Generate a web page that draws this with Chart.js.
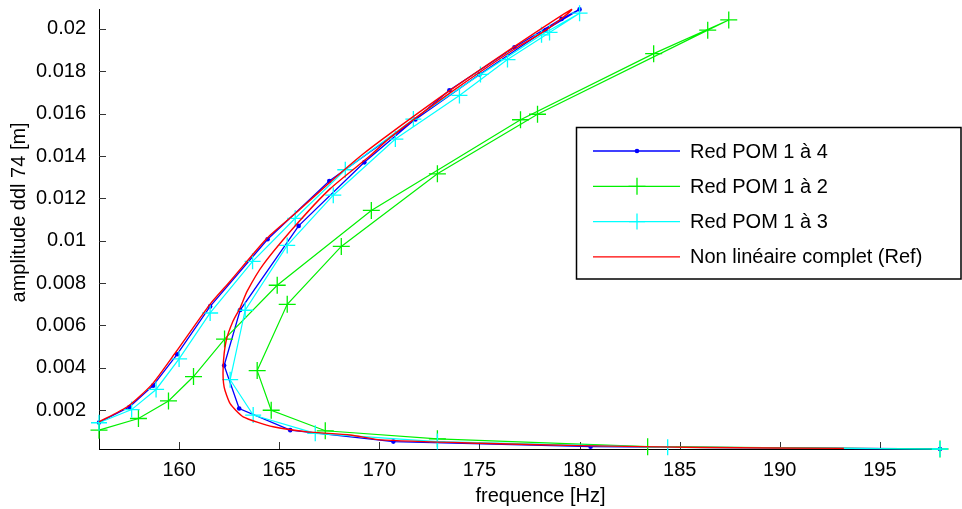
<!DOCTYPE html>
<html>
<head>
<meta charset="utf-8">
<script src="https://cdn.jsdelivr.net/npm/chart.js@4.4.0/dist/chart.umd.min.js"></script>
<style>
  html, body { margin: 0; padding: 0; background: #fff; overflow: hidden; }
</style>
</head>
<body>
<canvas id="chart" width="962" height="509"></canvas>
<script>
// frequency [Hz] / amplitude [m] along each continuation curve
const pom4Freq = [156.0, 157.52, 158.7, 159.9, 161.55, 164.42, 167.5, 171.8, 175.0, 178.3, 180.0,
                  179.1, 176.75, 173.5, 169.25, 165.97, 163.05, 162.25, 163.0, 165.55, 170.7, 180.55, 198.0];
const pom4Amp  = [0.00142, 0.00215, 0.00316, 0.00464, 0.0069, 0.01007, 0.01282, 0.01572, 0.01785, 0.01995, 0.02092,
                  0.02047, 0.01913, 0.0171, 0.0137, 0.0107, 0.00673, 0.00411, 0.00208, 0.00106, 0.00052, 0.00028, 0.00017];

const pom2Freq = [156.0, 157.97, 159.47, 160.72, 162.27, 164.9, 169.6, 177.05, 183.7, 187.45,
                  186.4, 177.9, 172.9, 168.1, 165.4, 163.9, 164.6, 167.3, 172.9, 183.4, 198.0];
const pom2Amp  = [0.00106, 0.00161, 0.00244, 0.00359, 0.00536, 0.0079, 0.01143, 0.01571, 0.01883, 0.02042,
                  0.01994, 0.01597, 0.01316, 0.00973, 0.007, 0.00387, 0.002, 0.00103, 0.00065, 0.00028, 0.00017];

const pom3Freq = [156.0, 157.63, 158.85, 160.0, 161.55, 163.67, 165.8, 168.3, 171.7, 175.05, 178.1, 180.0,
                  178.5, 176.4, 174.0, 170.8, 167.7, 165.4, 163.3, 162.55, 163.7, 166.8, 172.9, 184.4, 198.0];
const pom3Amp  = [0.00141, 0.00203, 0.00298, 0.00442, 0.00659, 0.00903, 0.01106, 0.01335, 0.01574, 0.01785, 0.01972, 0.02074,
                  0.01983, 0.01855, 0.01686, 0.0148, 0.01215, 0.00978, 0.00672, 0.00344, 0.00177, 0.00091, 0.00052, 0.00025, 0.00017];

const refFreq = [156.0, 157.45, 158.65, 159.85, 161.55, 162.55, 164.39, 165.9, 167.55, 169.17, 170.55, 173.47, 176.7, 179.6,
                 178.4, 176.75, 173.55, 170.55, 169.55, 167.55, 165.9, 164.2, 163.4, 163.05, 162.7, 162.35, 162.2, 162.25,
                 162.55, 163.2, 164.7, 166.4, 168.55, 170.05, 175.05, 180.05, 186.05, 193.2];
const refAmp  = [0.00145, 0.00219, 0.00322, 0.00476, 0.00701, 0.00809, 0.01012, 0.01137, 0.01277, 0.01408, 0.01507, 0.01706, 0.01914, 0.02092,
                 0.01999, 0.01905, 0.01699, 0.01488, 0.01402, 0.01246, 0.01081, 0.00887, 0.00762, 0.00684, 0.00622, 0.00528, 0.00403, 0.00309,
                 0.00231, 0.00169, 0.00122, 0.00098, 0.00083, 0.0006, 0.00044, 0.00033, 0.00024, 0.0002];

const xTicks = [160, 165, 170, 175, 180, 185, 190, 195];
const yTicks = [0.002, 0.004, 0.006, 0.008, 0.01, 0.012, 0.014, 0.016, 0.018, 0.02];

const FONT = "'Liberation Sans', Arial, sans-serif";
Chart.defaults.font.family = FONT;
Chart.defaults.font.size = 20;
Chart.defaults.color = '#000';

const pts = (fx, fy) => fx.map((f, i) => ({ x: f, y: fy[i] }));

// ticks pointing into the plot, like the original
const inwardTicks = {
  id: 'inwardTicks',
  beforeDatasetsDraw(chart) {
    const { ctx, chartArea: a, scales: { x, y } } = chart;
    ctx.save();
    ctx.strokeStyle = '#333';
    ctx.lineWidth = 1;
    ctx.beginPath();
    x.ticks.forEach(t => {
      const p = Math.round(x.getPixelForValue(t.value)) + 0.5;
      ctx.moveTo(p, a.bottom); ctx.lineTo(p, a.bottom - 7);
    });
    y.ticks.forEach(t => {
      const p = Math.round(y.getPixelForValue(t.value)) + 0.5;
      ctx.moveTo(a.left, p); ctx.lineTo(a.left + 7, p);
    });
    ctx.stroke();
    ctx.restore();
  }
};

const axisTitles = {
  id: 'axisTitles',
  afterDraw(chart) {
    const { ctx, chartArea: a } = chart;
    ctx.save();
    ctx.font = '20px ' + FONT;
    ctx.fillStyle = '#000';
    ctx.textAlign = 'center';
    ctx.textBaseline = 'middle';
    ctx.fillText('frequence [Hz]', (a.left + a.right) / 2 + 21, 496);
    ctx.translate(19, (a.top + a.bottom) / 2 - 17);
    ctx.rotate(-Math.PI / 2);
    ctx.fillText('amplitude ddl 74 [m]', 0, 0);
    ctx.restore();
  }
};

function drawMarker(ctx, ds, x, y) {
  ctx.strokeStyle = ds.borderColor;
  ctx.fillStyle = ds.borderColor;
  if (ds.pointStyle === 'circle') {
    ctx.beginPath(); ctx.arc(x, y, ds.pointRadius, 0, Math.PI * 2); ctx.fill();
  } else if (ds.pointStyle === 'cross') {
    const r = ds.pointRadius;
    ctx.lineWidth = ds.pointBorderWidth;
    ctx.beginPath();
    ctx.moveTo(x - r, y); ctx.lineTo(x + r, y);
    ctx.moveTo(x, y - r); ctx.lineTo(x, y + r);
    ctx.stroke();
  }
}

const boxLegend = {
  id: 'boxLegend',
  afterDraw(chart) {
    const ctx = chart.ctx;
    ctx.save();
    ctx.fillStyle = '#fff';
    ctx.fillRect(576, 127, 386, 152);
    ctx.strokeStyle = '#000';
    ctx.lineWidth = 1.5;
    ctx.strokeRect(576.5, 127.5, 384.5, 151.5);
    ctx.font = '20px ' + FONT;
    ctx.textBaseline = 'middle';
    chart.data.datasets.forEach((ds, i) => {
      const y = 151 + i * 35.3;
      ctx.strokeStyle = ds.borderColor;
      ctx.lineWidth = ds.borderWidth;
      ctx.beginPath(); ctx.moveTo(593, y); ctx.lineTo(680, y); ctx.stroke();
      if (ds.pointRadius > 0) drawMarker(ctx, ds, 637, y);
      ctx.fillStyle = '#000';
      ctx.fillText(ds.label, 690, y + 1);
    });
    ctx.restore();
  }
};

new Chart(document.getElementById('chart'), {
  type: 'scatter',
  data: {
    datasets: [
      {
        label: 'Red POM 1 à 4', data: pts(pom4Freq, pom4Amp), showLine: true,
        borderColor: '#0000ff', backgroundColor: '#0000ff', borderWidth: 1.3,
        pointStyle: 'circle', pointRadius: 2.3, pointBorderWidth: 0, order: 3, clip: false
      },
      {
        label: 'Red POM 1 à 2', data: pts(pom2Freq, pom2Amp), showLine: true,
        borderColor: '#00f000', backgroundColor: '#00f000', borderWidth: 1.2,
        pointStyle: 'cross', pointRadius: 8.5, pointBorderWidth: 1.3, order: 2, clip: false
      },
      {
        label: 'Red POM 1 à 3', data: pts(pom3Freq, pom3Amp), showLine: true,
        borderColor: '#00ffff', backgroundColor: '#00ffff', borderWidth: 1.2,
        pointStyle: 'cross', pointRadius: 8, pointBorderWidth: 1.3, order: 1, clip: false
      },
      {
        label: 'Non linéaire complet (Ref)', data: pts(refFreq, refAmp), showLine: true,
        borderColor: '#ff0000', backgroundColor: '#ff0000', borderWidth: 1.4,
        pointRadius: 0, tension: 0.2, order: 0, clip: false
      }
    ]
  },
  options: {
    responsive: false,
    animation: false,
    events: [],
    layout: { padding: { left: 0, right: 22, top: 7, bottom: 0 } },
    plugins: { legend: { display: false }, tooltip: { enabled: false } },
    scales: {
      x: {
        type: 'linear', min: 156, max: 198,
        grid: { display: false },
        border: { display: true, color: '#000', width: 1 },
        ticks: { padding: 1, autoSkip: false, maxRotation: 0, color: '#000' },
        afterBuildTicks: s => { s.ticks = xTicks.map(v => ({ value: v })); },
        afterFit: s => { s.height = 60; s.paddingLeft = 0; s.paddingRight = 0; }
      },
      y: {
        type: 'linear', min: 0.00017, max: 0.0209,
        grid: { display: false },
        border: { display: true, color: '#000', width: 1 },
        ticks: { padding: 5, autoSkip: false, color: '#000', callback: v => String(+v.toFixed(4)) },
        afterBuildTicks: s => { s.ticks = yTicks.map(v => ({ value: v })); },
        afterFit: s => { s.width = 99; s.paddingTop = 0; s.paddingBottom = 0; }
      }
    }
  },
  plugins: [inwardTicks, axisTitles, boxLegend]
});
</script>
</body>
</html>
